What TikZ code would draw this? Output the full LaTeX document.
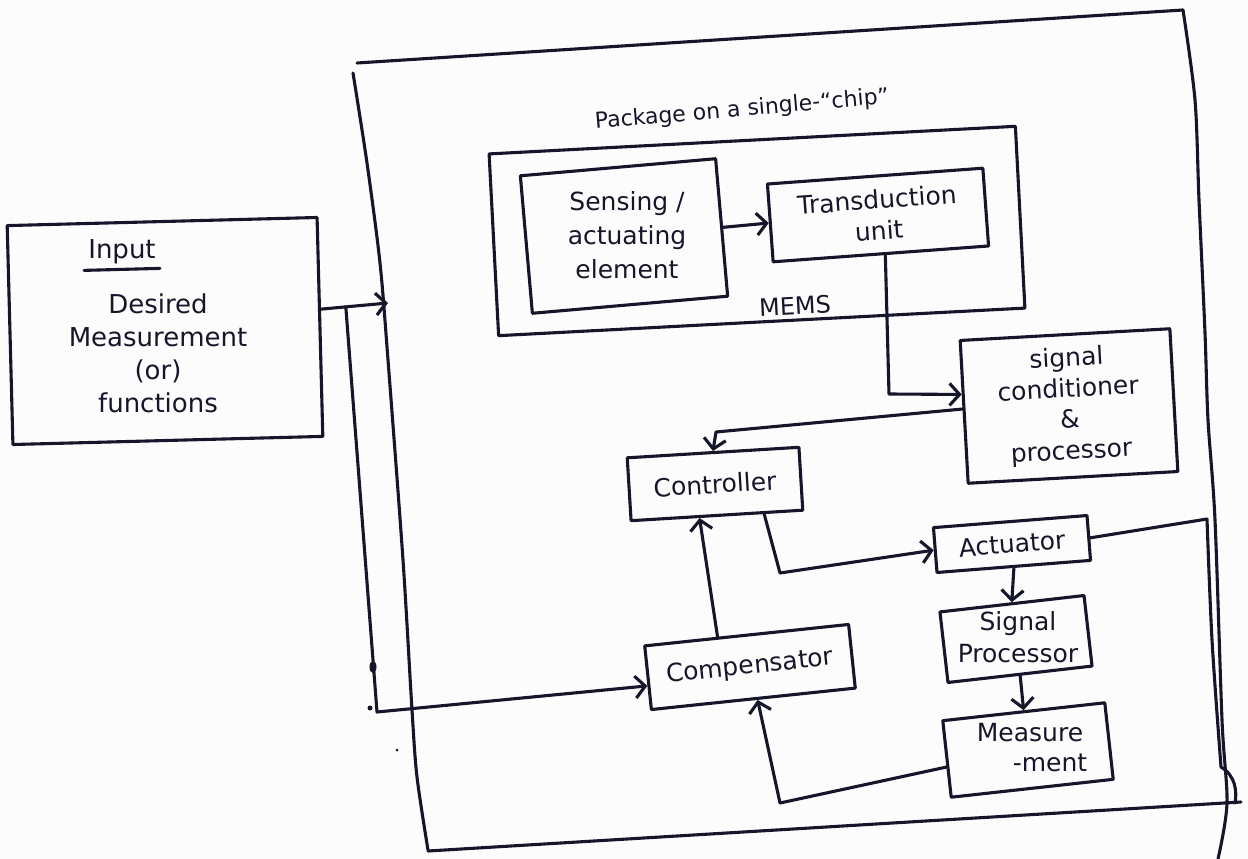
\documentclass[tikz,border=0pt]{standalone}
\usepackage{fontspec}
\setmainfont{DejaVu Sans}
\usetikzlibrary{arrows.meta,calc}
\definecolor{ink}{RGB}{22,22,42}
\definecolor{paper}{RGB}{253,252,253}
\begin{document}
\begin{tikzpicture}[x=1pt,y=-1pt,
  inkline/.style={draw=ink,line width=3.1pt,line cap=round,line join=round},
  blk/.style={inkline,rectangle,inner sep=0pt,text=ink,align=center,
    font=\fontsize{25}{31}\selectfont},
  lbl/.style={text=ink,inner sep=0pt,align=center,font=\fontsize{26}{33}\selectfont},
  flow/.style={inkline,-{Straight Barb[length=10pt,width=22pt]}},
]
% paper and page frame
\fill[paper] (0,0) rectangle (1248,859);
\useasboundingbox (0,0) rectangle (1248,859);

% ---- input block ----
\node[blk,minimum width=310pt,minimum height=219pt,rotate=1.5] (input) at (165,331) {};
\node[lbl] (inTitle) at (122,252) {Input};
\draw[inkline] ($(inTitle.south west)+(-4,6)$) -- ($(inTitle.south east)+(4,4)$);
\node[lbl] (inBody) at (158,353) {Desired\\Measurement\\(or)\\functions};

% ---- package (single chip) outline ----
\draw[inkline] (357,63) -- (1183,10);
\draw[inkline] plot[smooth] coordinates {(1183,10) (1195,100) (1199,200) (1205,333)
  (1208,420) (1215,520) (1222,720) (1227,803) (1218,859)};
\draw[inkline] plot[smooth] coordinates {(353,73) (367,163) (380,263) (388,360)
  (403,560) (412,710) (417,777) (428,850)};
\draw[inkline] (428,851) -- (1241,802);
\node[lbl,font=\fontsize{22}{24}\selectfont,rotate=5] (pkgLabel) at (742,110)
  {Package on a single-``chip''};
\coordinate (pkgIn) at (388,303);

% ---- MEMS ----
\node[blk,minimum width=527pt,minimum height=182pt,rotate=3] (mems) at (757,231) {};
\node[lbl,font=\fontsize{24}{26}\selectfont,rotate=3] (memsLabel) at (795,306) {MEMS};
\node[blk,minimum width=196pt,minimum height=138pt,rotate=5] (sense) at (624,236) {};
\node[lbl,font=\fontsize{25}{34}\selectfont] (senseText) at (627,235)
  {Sensing /\\actuating\\element};
\node[blk,minimum width=216pt,minimum height=78pt,rotate=4.2] (trans) at (878,215)
  {Transduction\\unit};

% ---- processing chain ----
\node[blk,minimum width=210pt,minimum height=143pt,rotate=3.2] (sigc) at (1069,406)
  {signal\\conditioner\\\&\\processor};
\node[blk,minimum width=172pt,minimum height=63pt,rotate=3.5] (ctrl) at (715,484)
  {Controller};
\node[blk,minimum width=154pt,minimum height=45pt,rotate=4.5] (act) at (1012,544)
  {Actuator};
\node[blk,minimum width=145pt,minimum height=71pt,rotate=6.5] (sp) at (1016,639) {};
\node[lbl,font=\fontsize{25}{32}\selectfont] (spText) at (1018,637) {Signal\\Processor};
\node[blk,minimum width=163pt,minimum height=77pt,rotate=6.3] (meas) at (1028,750) {};
\node[lbl,font=\fontsize{25}{30}\selectfont] (measText) at (1030,748)
  {Measure\\\hspace*{40pt}-ment};
\node[blk,minimum width=205pt,minimum height=64pt,rotate=6] (comp) at (750,667)
  {Compensator};

% ---- connector end points ----
\coordinate (inOut) at ($(input.north east)!0.42!(input.south east)$);
\coordinate (fork) at ($(inOut)!0.37!(pkgIn)$);
\coordinate (feedCorner) at (377,712);
\coordinate (compIn) at ($(comp.north west)!0.62!(comp.south west)$);
\coordinate (compTop) at ($(comp.north west)!0.36!(comp.north east)$);
\coordinate (compBottom) at ($(comp.south west)!0.52!(comp.south east)$);
\coordinate (transOut) at ($(trans.south west)!0.52!(trans.south east)$);
\coordinate (b1) at (889,394);
\coordinate (sigcIn) at ($(sigc.north west)!0.38!(sigc.south west)$);
\coordinate (sigcOut) at ($(sigc.north west)!0.48!(sigc.south west)$);
\coordinate (b2) at (716,432);
\coordinate (ctrlOut) at ($(ctrl.south west)!0.77!(ctrl.south east)$);
\coordinate (ctrlIn) at ($(ctrl.south west)!0.4!(ctrl.south east)$);
\coordinate (b3) at (780,573);
\coordinate (measOut) at ($(meas.north west)!0.6!(meas.south west)$);
\coordinate (b4) at (780,803);
\coordinate (actR) at (1207,519);

% ---- connectors ----
\draw[flow] (inOut) -- (pkgIn);
\draw[flow] (fork) -- (feedCorner) -- (compIn);
\draw[flow] (sense.east) -- (trans.west);
\draw[flow] (transOut) -- (b1) -- (sigcIn);
\draw[flow] (sigcOut) -- (b2) -- (ctrl.north);
\draw[flow] (ctrlOut) -- (b3) -- (act.west);
\draw[flow] (compTop) -- (ctrlIn);
\draw[flow] (act.south) -- (sp.north);
\draw[flow] (sp.south) -- (meas.north);
\draw[flow] (measOut) -- (b4) -- (compBottom);
\draw[inkline] (act.east) -- (actR) plot[smooth] coordinates {(1207,519) (1212,640) (1221,767)}
  .. controls (1236,776) and (1237,792) .. (1235,803);

% ---- stray ink marks ----
\fill[ink] (373,667) ellipse (3.5pt and 6pt);
\fill[ink] (370,708) circle (2.5pt);
\fill[ink] (397,750) circle (1.5pt);
\end{tikzpicture}
\end{document}
